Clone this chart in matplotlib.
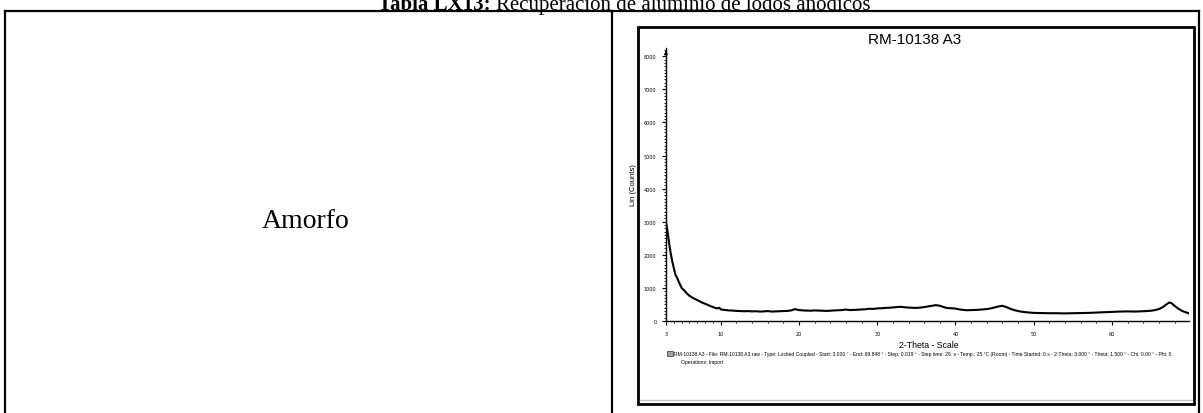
import matplotlib
matplotlib.use("Agg")
import matplotlib.pyplot as plt
from matplotlib.lines import Line2D
from matplotlib.patches import Rectangle
from matplotlib.ticker import MultipleLocator, FixedLocator

two_theta = [3.0, 3.2, 3.4, 3.6, 3.8, 4.0, 4.2, 4.4, 4.6, 4.8, 5.0, 5.3, 5.6, 6.0,
             6.5, 7.0, 7.5, 8.0, 8.5, 9.0, 9.5, 9.8, 10.0, 10.5, 11.0, 11.5, 12.0,
             12.5, 13.0, 13.5, 14.0, 14.5, 15.0, 15.5, 16.0, 16.5, 17.0, 17.5, 18.0,
             18.5, 19.0, 19.5, 20.0, 20.5, 21.0, 21.5, 22.0, 22.5, 23.0, 23.5, 24.0,
             24.5, 25.0, 25.5, 26.0, 26.5, 27.0, 27.5, 28.0, 28.5, 29.0, 29.5, 30.0,
             30.5, 31.0, 31.5, 32.0, 32.5, 33.0, 33.5, 34.0, 34.5, 35.0, 35.5, 36.0,
             36.5, 37.0, 37.5, 38.0, 38.5, 39.0, 39.5, 40.0, 40.5, 41.0, 41.5, 42.0,
             42.5, 43.0, 43.5, 44.0, 44.5, 45.0, 45.5, 46.0, 46.5, 47.0, 47.5, 48.0,
             48.5, 49.0, 49.5, 50.0, 51.0, 52.0, 53.0, 54.0, 55.0, 56.0, 57.0, 58.0,
             59.0, 60.0, 61.0, 62.0, 63.0, 64.0, 65.0, 65.5, 66.0, 66.5, 67.0, 67.3,
             67.6, 68.0, 68.5, 69.0, 69.5, 69.848]
counts = [3000, 2700, 2350, 2050, 1800, 1600, 1400, 1320, 1200, 1100, 1000, 930, 850, 760,
          690, 630, 570, 520, 470, 420, 380, 400, 350, 335, 320, 315, 305,
          300, 295, 300, 290, 295, 285, 290, 300, 285, 290, 295, 300,
          305, 320, 360, 330, 320, 315, 310, 320, 315, 310, 305, 310,
          320, 325, 330, 345, 330, 335, 340, 350, 355, 370, 365, 380,
          385, 395, 400, 410, 420, 430, 415, 405, 400, 395, 405, 420,
          440, 460, 480, 460, 420, 390, 385, 375, 350, 335, 325, 330,
          335, 340, 350, 360, 380, 410, 440, 460, 420, 370, 330, 300,
          280, 265, 255, 245, 240, 235, 235, 230, 235, 240, 245, 255,
          265, 275, 285, 290, 285, 295, 310, 330, 360, 420, 510, 560,
          540, 460, 370, 300, 260, 230]

x_ticks = [3, 10, 20, 30, 40, 50, 60]
y_ticks = [0, 1000, 2000, 3000, 4000, 5000, 6000, 7000, 8000]

W, H = 1203, 414
fig = plt.figure(figsize=(W / 100, H / 100), dpi=100)


def fx(px):
    return px / W


def fy(py):
    return 1 - py / H


# titulo de la tabla (cortado arriba, como en el documento)
fig.text(fx(378), fy(10), "Tabla LX13:", fontsize=15, fontweight="bold",
         family="Liberation Serif", ha="left", va="baseline")
fig.text(fx(496), fy(10), "Recuperación de aluminio de lodos anódicos", fontsize=15,
         family="Liberation Serif", ha="left", va="baseline")

# bordes de la tabla
for (x0, y0, x1, y1) in [(5, 12, 1199, 12), (5, 12, 5, 414), (612, 12, 612, 414),
                         (1199, 12, 1199, 414)]:
    fig.add_artist(Line2D([fx(x0), fx(x1)], [fy(y0), fy(y1)], color="black", lw=1.6))

fig.text(fx(306), fy(222), "Amorfo", fontsize=20, family="Liberation Serif",
         ha="center", va="center")

# marco de la imagen
fig.add_artist(Rectangle((fx(638), fy(405)), fx(1194 - 638), (405 - 28) / H,
                         fill=False, edgecolor="black", lw=2))
fig.add_artist(Line2D([fx(640), fx(1192)], [fy(401), fy(401)], color="#c8c8c8", lw=1))

ax = fig.add_axes([fx(666), fy(322), fx(1189 - 666), (322 - 49) / H])
ax.plot(two_theta, counts, color="black", lw=1.5)
ax.set_xlim(3, 69.848)
ax.set_ylim(0, 8250)
ax.spines["top"].set_visible(False)
ax.spines["right"].set_visible(False)
ax.spines["left"].set_linewidth(1)
ax.spines["bottom"].set_linewidth(1)
ax.xaxis.set_major_locator(FixedLocator(x_ticks))
ax.xaxis.set_minor_locator(FixedLocator(list(range(4, 10)) + list(range(12, 70, 2))))
ax.yaxis.set_major_locator(FixedLocator(y_ticks))
ax.yaxis.set_minor_locator(MultipleLocator(100))
ax.set_xticklabels([str(t) for t in x_ticks])
ax.set_yticklabels([str(t) for t in y_ticks])
ax.tick_params(which="major", direction="out", length=3, width=0.8, labelsize=3.5, pad=4)
ax.tick_params(which="minor", direction="out", length=1.6, width=0.6)
ax.annotate("", xy=(3, 8250), xytext=(3, 8050), annotation_clip=False,
            arrowprops=dict(arrowstyle="-|>", lw=0.8, color="black",
                            mutation_scale=5))
ax.set_ylabel("Lin (Counts)", fontsize=5.5, family="Liberation Sans", labelpad=5)

fig.text(fx(915), fy(40), "RM-10138 A3", fontsize=11, family="Liberation Sans",
         ha="center", va="center")
fig.text(fx(929), fy(346), "2-Theta - Scale", fontsize=6.3, family="Liberation Sans",
         ha="center", va="center")

fig.add_artist(Rectangle((fx(667), fy(357)), fx(6), 5 / H, facecolor="#a0a0a0",
                         edgecolor="#303030", lw=0.5))
fig.text(fx(674), fy(355),
         "RM-10138 A3 - File: RM-10138 A3.raw - Type: Locked Coupled - Start: 3.000 ° - "
         "End: 69.848 ° - Step: 0.019 ° - Step time: 29. s - Temp.: 25 °C (Room) - "
         "Time Started: 0 s - 2-Theta: 3.000 ° - Theta: 1.500 ° - Chi: 0.00 ° - Phi: 0.",
         fontsize=3.65, family="Liberation Sans", ha="left", va="center")
fig.text(fx(681), fy(363), "Operations: Import", fontsize=3.65,
         family="Liberation Sans", ha="left", va="center")

fig.savefig("out.png", dpi=100)
